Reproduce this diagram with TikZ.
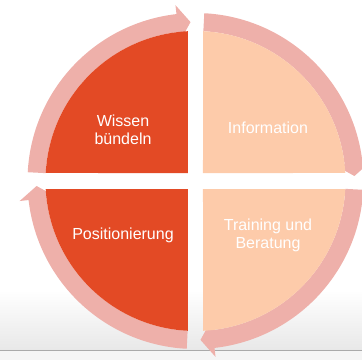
\documentclass[tikz,border=0pt]{standalone}
\usepackage{fontspec}
\setmainfont{Liberation Sans}
\usetikzlibrary{positioning}
\definecolor{myorange}{RGB}{227,74,37}
\definecolor{mypeach}{RGB}{253,203,170}
\definecolor{myrose}{RGB}{238,176,170}
\definecolor{myline}{RGB}{170,170,170}

\begin{document}
\begin{tikzpicture}[qtext/.style={text=white,align=center,font=\fontsize{16}{18}\selectfont},
  darkq/.style={fill=myorange},
  lightq/.style={fill=mypeach},
  ring/.style={fill=myrose}]

  \useasboundingbox (-195.5pt,-179pt) rectangle (166.5pt,181pt);

  % floor at the bottom
  \shade[top color=white,bottom color=black!9] (-195.5pt,-109pt) rectangle (166.5pt,-169pt);
  \fill[black!4] (-195.5pt,-170pt) rectangle (166.5pt,-179pt);
  \draw[myline,line width=1.2pt] (-195.5pt,-169.5pt) -- (166.5pt,-169.5pt);

  % four arrows round the circle
  \foreach \k in {0,1,2,3} {
    \pgfmathsetmacro\s{177-90*\k}
    \pgfmathsetmacro\hb{96.5-90*\k}
    \pgfmathsetmacro\tp{91.8-90*\k}
    \fill[ring] (\s:168pt) arc[start angle=\s,end angle=\hb,radius=168pt]
      -- (\hb:177pt) -- (\tp:159pt) -- (\hb:140pt) -- (\hb:150pt)
      arc[start angle=\hb,end angle=\s,radius=150pt] -- cycle;
  }

  % quadrants
  \fill[darkq] (-7.5pt,8pt) -- (176.94:150pt) arc[start angle=176.94,end angle=92.87,radius=150pt] -- cycle;
  \fill[lightq] (7.5pt,8pt) -- (87.13:150pt) arc[start angle=87.13,end angle=3.06,radius=150pt] -- cycle;
  \fill[lightq] (7.5pt,-8pt) -- (-3.06:150pt) arc[start angle=-3.06,end angle=-87.13,radius=150pt] -- cycle;
  \fill[darkq] (-7.5pt,-8pt) -- (-92.87:150pt) arc[start angle=-92.87,end angle=-176.94,radius=150pt] -- cycle;

  \coordinate (mid) at (0,0);
  \node[qtext] (wissen) at (-72.5pt,51pt) {Wissen\\bündeln};
  \node[qtext] (info) at (72.5pt,53pt) {Information};
  \node[qtext] (pos) at (-72.5pt,-54pt) {Positionierung};
  \node[qtext] (training) at (72.5pt,-54pt) {Training und\\Beratung};

\end{tikzpicture}
\end{document}
